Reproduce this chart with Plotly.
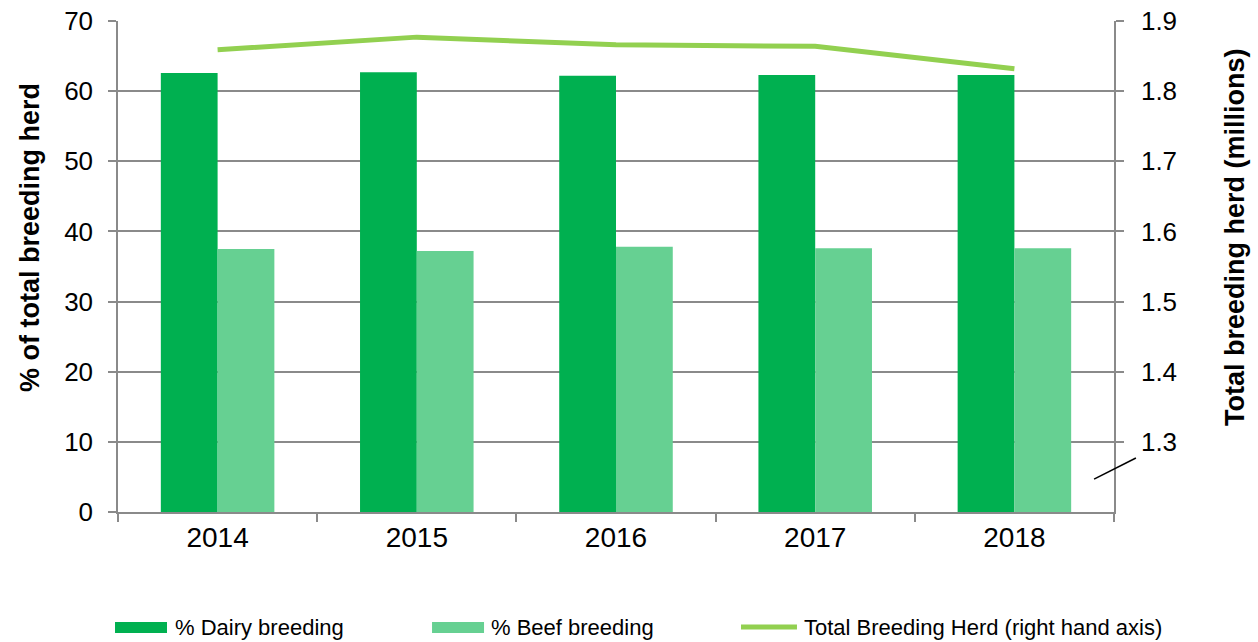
import plotly.graph_objects as go

years = ["2014", "2015", "2016", "2017", "2018"]
dairy_pct = [62.6, 62.7, 62.2, 62.3, 62.3]
beef_pct = [37.5, 37.2, 37.8, 37.6, 37.6]
total_herd = [1.859, 1.877, 1.866, 1.864, 1.832]
left_ticks = [0, 10, 20, 30, 40, 50, 60, 70]
right_ticks = [1.3, 1.4, 1.5, 1.6, 1.7, 1.8, 1.9]

series_names = ["% Dairy breeding", "% Beef breeding", "Total Breeding Herd (right hand axis)"]
DAIRY_C = "#00B050"
BEEF_C = "#66D092"
LINE_C = "#92D050"

FONT = "Liberation Sans, Arial, sans-serif"
GRID = "#8A8A8A"

fig = go.Figure()
fig.add_trace(go.Bar(x=years, y=dairy_pct, name=series_names[0],
                     marker=dict(color=DAIRY_C, line=dict(width=0))))
fig.add_trace(go.Bar(x=years, y=beef_pct, name=series_names[1],
                     marker=dict(color=BEEF_C, line=dict(width=0))))
fig.add_trace(go.Scatter(x=years, y=total_herd, name=series_names[2],
                         mode="lines", line=dict(color=LINE_C, width=5),
                         yaxis="y2"))

fig.update_layout(
    width=1258, height=642,
    margin=dict(l=118, r=144, t=21, b=130, autoexpand=False),
    paper_bgcolor="white", plot_bgcolor="white",
    font=dict(family=FONT, color="black"),
    barmode="group", bargap=0.43, bargroupgap=0,
    showlegend=False,
    xaxis=dict(type="category", showline=True, linecolor=GRID, linewidth=1.5,
               ticks="outside", tickson="boundaries", ticklen=8, tickcolor=GRID, tickwidth=1.5,
               tickfont=dict(size=28, family=FONT), showgrid=False, automargin=False),
    yaxis=dict(range=[0, 70.0001], tickvals=left_ticks, showline=True, linecolor=GRID, linewidth=1.5,
               ticks="outside", ticklen=8, tickcolor=GRID, tickwidth=1.5, showgrid=True,
               gridcolor=GRID, gridwidth=1.5, zeroline=False, automargin=False,
               ticklabeloverflow="allow", ticklabelstandoff=10,
               tickfont=dict(size=26, family=FONT)),
    yaxis2=dict(range=[1.2, 1.900001], tickvals=right_ticks, ticktext=[f"{v:.1f}" for v in right_ticks],
                overlaying="y", side="right", showline=True, linecolor=GRID, linewidth=1.5,
                ticks="outside", ticklen=8, tickcolor=GRID, tickwidth=1.5, showgrid=False,
                zeroline=False, automargin=False, ticklabeloverflow="allow", ticklabelstandoff=12,
                tickfont=dict(size=26, family=FONT)),
)

# axis titles
fig.add_annotation(text="<b>% of total breeding herd</b>", xref="paper", yref="paper",
                   x=-0.0884, y=0.56, textangle=-90, showarrow=False,
                   font=dict(size=27, family=FONT), xanchor="center", yanchor="middle")
fig.add_annotation(text="<b>Total breeding herd (millions)</b>", xref="paper", yref="paper",
                   x=1.1215, y=0.56, textangle=-90, showarrow=False,
                   font=dict(size=27, family=FONT), xanchor="center", yanchor="middle")

# axis break marker on right axis
fig.add_shape(type="line", xref="paper", yref="paper", x0=0.980, y0=0.067, x1=1.022, y1=0.110,
              line=dict(color="black", width=1.5))

# legend (bottom, horizontal)
leg_y = -0.2352
fig.add_shape(type="rect", xref="paper", yref="paper", x0=-0.0030, x1=0.0492, y0=-0.2464, y1=-0.2240,
              fillcolor=DAIRY_C, line=dict(width=0))
fig.add_shape(type="rect", xref="paper", yref="paper", x0=0.3153, x1=0.3675, y0=-0.2464, y1=-0.2240,
              fillcolor=BEEF_C, line=dict(width=0))
fig.add_shape(type="line", xref="paper", yref="paper", x0=0.6255, x1=0.6817, y0=-0.2342, y1=-0.2342,
              line=dict(color=LINE_C, width=5))
for xt, name in zip([0.0552, 0.3725, 0.6867], series_names):
    fig.add_annotation(text=name, xref="paper", yref="paper", x=xt, y=leg_y, showarrow=False,
                       xanchor="left", yanchor="middle", font=dict(size=22, family=FONT))

fig.write_html("out.html", config={"displayModeBar": False},
               post_script="document.body.style.margin='0px';document.body.style.overflow='hidden';")
